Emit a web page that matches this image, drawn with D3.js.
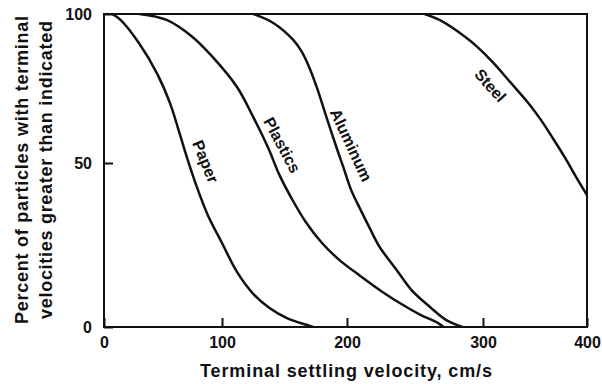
<!DOCTYPE html>
<html>
<head>
<meta charset="utf-8">
<script src="https://cdn.jsdelivr.net/npm/d3@7"></script>
<style>
  body { margin: 0; background: #fff; }
  text { font-family: "Liberation Sans", Arial, sans-serif; fill: #111; }
  .axis text { font-size: 16px; font-weight: bold; }
  .axis line { stroke: #111; stroke-width: 2px; }
  .title { font-size: 18px; font-weight: bold; }
  .curve-label { font-size: 16px; font-weight: bold; }
</style>
</head>
<body>
<div id="chart"></div>
<script>
// Data (velocity in cm/s, percent)
var materials = ["Paper", "Plastics", "Aluminum", "Steel"];

var paperX = [7, 14, 30, 45, 56, 64, 71, 79, 88, 100, 112, 125, 138, 152, 168, 173];
var paperY = [100, 98, 90, 80, 70, 60, 51, 42.4, 34.1, 25.6, 16.8, 10.1, 5.8, 2.7, 0.6, 0];

var plasticsX = [30, 53, 75, 92, 112, 125, 137, 146, 156, 167, 180, 194, 210, 225, 240, 254, 267, 271];
var plasticsY = [100, 98, 92.3, 85.6, 75.5, 65.4, 55, 46.3, 39, 32, 25.6, 20.4, 15.5, 11, 7, 3.7, 1.2, 0];

var aluminumX = [125, 141, 157, 164, 170, 176, 184, 192, 197, 203, 210, 217, 224, 237, 248, 261, 273, 285];
var aluminumY = [100, 97, 91.3, 87.2, 81.9, 75.2, 64.8, 54.7, 48.8, 41.8, 35.7, 29.9, 24.4, 17.1, 11, 6.1, 2.1, 0];

var steelX = [257, 268, 287, 296, 310, 326, 342, 355, 367, 379, 389, 400];
var steelY = [100, 98, 92.3, 88.9, 83.6, 77.2, 70.8, 64.8, 58.4, 51.7, 46, 40.2];

var xTicks = [0, 100, 200, 300, 400];
var yTicks = [0, 50, 100];

var xTitle = "Terminal settling velocity, cm/s";
var yTitle = ["Percent of particles with terminal", "velocities greater than indicated"];

// SVG drawing area
var margin = {top: 14, right: 15, bottom: 57, left: 104};
var width = 602 - margin.left - margin.right;
var height = 384 - margin.top - margin.bottom;

var svgRoot = d3.select("#chart").append("svg")
    .attr("width", 602)
    .attr("height", 384);

var svg = svgRoot.append("g")
    .attr("transform", "translate(" + margin.left + "," + margin.top + ")");

// Scales (the scanned original is not evenly spaced, so the scales are piecewise)
var xScale = d3.scaleLinear()
    .domain(xTicks)
    .range([0, 118, 243, 379, width]);

var yScale = d3.scaleLinear()
    .domain(yTicks)
    .range([height, 149, 0]);

// Axes, ticks pointing inward
var xAxis = d3.axisBottom(xScale)
    .tickValues(xTicks)
    .tickSizeInner(-9)
    .tickSizeOuter(0)
    .tickPadding(10);

var yAxis = d3.axisLeft(yScale)
    .tickValues(yTicks)
    .tickSizeInner(-9)
    .tickSizeOuter(0)
    .tickPadding(12);

var gx = svg.append("g")
    .attr("class", "x-axis axis")
    .attr("transform", "translate(0," + height + ")")
    .call(xAxis);
gx.select(".domain").remove();

var gy = svg.append("g")
    .attr("class", "y-axis axis")
    .call(yAxis);
gy.select(".domain").remove();

// Curves (clipped to the plot frame)
svg.append("clipPath")
    .attr("id", "plot-clip")
    .append("rect")
    .attr("width", width)
    .attr("height", height);

var seriesX = [paperX, plasticsX, aluminumX, steelX];
var seriesY = [paperY, plasticsY, aluminumY, steelY];
var series = materials.map(function(name, i) {
    return {
        name: name,
        values: seriesX[i].map(function(x, j) { return {x: x, y: seriesY[i][j]}; })
    };
});

var line = d3.line()
    .curve(d3.curveCatmullRom.alpha(0.5))
    .x(function(d) { return xScale(d.x); })
    .y(function(d) { return yScale(d.y); });

svg.append("g")
    .attr("clip-path", "url(#plot-clip)")
    .selectAll(".curve")
    .data(series)
    .enter()
    .append("path")
    .attr("class", "curve")
    .attr("fill", "none")
    .attr("stroke", "#111")
    .attr("stroke-width", 2.5)
    .attr("d", function(d) { return line(d.values); });

// Frame
svg.append("rect")
    .attr("x", 0)
    .attr("y", 0)
    .attr("width", width)
    .attr("height", height)
    .attr("fill", "none")
    .attr("stroke", "#111")
    .attr("stroke-width", 2);

// Curve labels: where each sits (data units) and its tilt
var labelPlace = {
    Paper:    {x: 86,  y: 50.5, angle: 68},
    Plastics: {x: 148, y: 56,   angle: 62},
    Aluminum: {x: 203, y: 56,   angle: 65},
    Steel:    {x: 307, y: 76,   angle: 48}
};

svg.selectAll(".curve-label")
    .data(materials)
    .enter()
    .append("text")
    .attr("class", "curve-label")
    .attr("text-anchor", "middle")
    .attr("dominant-baseline", "central")
    .attr("transform", function(d) {
        var p = labelPlace[d];
        return "translate(" + xScale(p.x) + "," + yScale(p.y) + ")rotate(" + p.angle + ")";
    })
    .text(function(d) { return d; });

// Axis titles
svgRoot.append("text")
    .attr("class", "title")
    .attr("x", 200)
    .attr("y", 377)
    .attr("textLength", 292)
    .attr("lengthAdjust", "spacing")
    .text(xTitle);

svgRoot.selectAll(".ytitle")
    .data(yTitle)
    .enter()
    .append("text")
    .attr("class", "title ytitle")
    .attr("text-anchor", "middle")
    .attr("transform", function(d, i) {
        return "translate(" + (28 + i * 24) + ",170)rotate(-90)";
    })
    .attr("textLength", function(d, i) { return i === 0 ? 308 : 298; })
    .attr("lengthAdjust", "spacing")
    .text(function(d) { return d; });
</script>
</body>
</html>
